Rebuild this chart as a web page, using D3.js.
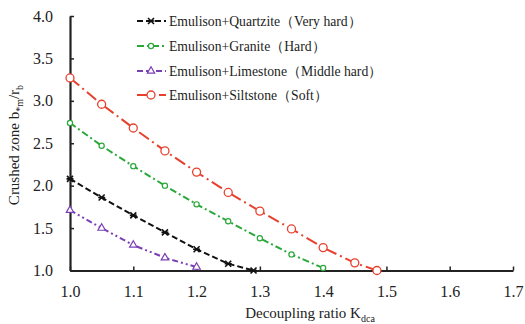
<!DOCTYPE html>
<html lang="en">
<head>
<meta charset="utf-8">
<style>
  body { margin: 0; background: #fff; }
  svg text { font-family: "Liberation Serif", "Times New Roman", serif; fill: #222; }
</style>
</head>
<body>
<script src="https://d3js.org/d3.v7.min.js"></script>
<script>
var width = 525, height = 324;

// data
var quartziteX = [1.0, 1.05, 1.1, 1.15, 1.2, 1.25, 1.29];
var quartziteY = [2.08, 1.86, 1.65, 1.45, 1.25, 1.08, 1.0];
var graniteX = [1.0, 1.05, 1.1, 1.15, 1.2, 1.25, 1.3, 1.35, 1.4];
var graniteY = [2.74, 2.47, 2.23, 2.0, 1.78, 1.58, 1.38, 1.19, 1.03];
var limestoneX = [1.0, 1.05, 1.1, 1.15, 1.2];
var limestoneY = [1.71, 1.5, 1.3, 1.15, 1.04];
var siltstoneX = [1.0, 1.05, 1.1, 1.15, 1.2, 1.25, 1.3, 1.35, 1.4, 1.45, 1.485];
var siltstoneY = [3.27, 2.96, 2.68, 2.41, 2.16, 1.92, 1.7, 1.49, 1.27, 1.09, 1.0];

var seriesNames = ['Emulison+Quartzite（Very hard）', 'Emulison+Granite（Hard）',
                   'Emulison+Limestone（Middle hard）', 'Emulison+Siltstone（Soft）'];
var xTicks = [1.0, 1.1, 1.2, 1.3, 1.4, 1.5, 1.6, 1.7];
var yTicks = [1.0, 1.5, 2.0, 2.5, 3.0, 3.5, 4.0];

var series = [
    { name: seriesNames[0], xs: quartziteX, ys: quartziteY, color: '#111', dash: '6,3', marker: 'star' },
    { name: seriesNames[1], xs: graniteX, ys: graniteY, color: '#2aa83a', dash: '7,3,2,3', marker: 'dot' },
    { name: seriesNames[2], xs: limestoneX, ys: limestoneY, color: '#7b3fb5', dash: '6,3,2,3,2,3', marker: 'tri' },
    { name: seriesNames[3], xs: siltstoneX, ys: siltstoneY, color: '#e8402e', dash: '12,4,2,4', marker: 'circle' }
];

var x = d3.scaleLinear().domain([1.0, 1.7]).range([70, 513]);
var y = d3.scaleLinear().domain([1.0, 4.0]).range([270.5, 16]);

var svg = d3.select('body').append('svg').attr('width', width).attr('height', height);

// axes, ticks pointing inward
var xAxis = svg.append('g').attr('transform', 'translate(0,' + y(1.0) + ')')
    .call(d3.axisBottom(x).tickValues(xTicks).tickFormat(d3.format('.1f')).tickSizeInner(-4).tickSizeOuter(0).tickPadding(15));
var yAxis = svg.append('g').attr('transform', 'translate(' + x(1.0) + ',0)')
    .call(d3.axisLeft(y).tickValues(yTicks).tickFormat(d3.format('.1f')).tickSizeInner(-4).tickSizeOuter(0).tickPadding(17));
[xAxis, yAxis].forEach(function (g) {
    g.attr('font-family', null);
    g.select('.domain').attr('stroke', '#222').attr('stroke-width', 2.2);
    g.selectAll('.tick line').attr('stroke', '#222').attr('stroke-width', 1.5);
    g.selectAll('.tick text').attr('font-size', 16).attr('fill', '#333');
});

function drawMarker(g, type, color, cx, cy) {
    if (type === 'star') {
        g.append('path').attr('d', 'M' + (cx - 3) + ',' + (cy - 3) + 'L' + (cx + 3) + ',' + (cy + 3) +
            'M' + (cx - 3) + ',' + (cy + 3) + 'L' + (cx + 3) + ',' + (cy - 3) +
            'M' + (cx - 3.5) + ',' + cy + 'L' + (cx + 3.5) + ',' + cy)
            .attr('stroke', color).attr('stroke-width', 1.6);
    } else if (type === 'dot') {
        g.append('circle').attr('cx', cx).attr('cy', cy).attr('r', 2.6)
            .attr('fill', '#fff').attr('stroke', color).attr('stroke-width', 1.2);
    } else if (type === 'tri') {
        g.append('path').attr('d', d3.symbol().type(d3.symbolTriangle).size(24)())
            .attr('transform', 'translate(' + cx + ',' + cy + ')')
            .attr('fill', '#fff').attr('stroke', color).attr('stroke-width', 1.2);
    } else {
        g.append('circle').attr('cx', cx).attr('cy', cy).attr('r', 4)
            .attr('fill', '#fff').attr('stroke', color).attr('stroke-width', 1.3);
    }
}

var line = d3.line().x(function (d) { return x(d[0]); }).y(function (d) { return y(d[1]); });

series.forEach(function (s) {
    var pts = s.xs.map(function (v, i) { return [v, s.ys[i]]; });
    var g = svg.append('g');
    g.append('path').datum(pts).attr('d', line).attr('fill', 'none')
        .attr('stroke', s.color).attr('stroke-width', 2).attr('stroke-dasharray', s.dash);
    pts.forEach(function (p) { drawMarker(g, s.marker, s.color, x(p[0]), y(p[1])); });
});

// legend
var legendY = [21, 46, 71, 95];
series.forEach(function (s, i) {
    var g = svg.append('g');
    g.append('line').attr('x1', 137).attr('x2', 166).attr('y1', legendY[i]).attr('y2', legendY[i])
        .attr('stroke', s.color).attr('stroke-width', 2).attr('stroke-dasharray', s.dash);
    drawMarker(g, s.marker, s.color, 151, legendY[i]);
    g.append('text').attr('x', 169).attr('y', legendY[i] + 4.5).attr('font-size', 13.7).text(s.name);
});

// axis titles
var xt = svg.append('text').attr('x', 310).attr('y', 318).attr('text-anchor', 'middle').attr('font-size', 15);
xt.append('tspan').text('Decoupling ratio K');
xt.append('tspan').attr('dy', 4).attr('font-size', 10).text('dca');

var yt = svg.append('text').attr('transform', 'translate(19,145) rotate(-90)').attr('text-anchor', 'middle').attr('font-size', 15);
yt.append('tspan').text('Crushed zone b');
yt.append('tspan').attr('dy', 4).attr('font-size', 10).text('*m');
yt.append('tspan').attr('dy', -4).text('/r');
yt.append('tspan').attr('dy', 4).attr('font-size', 10).text('b');
</script>
</body>
</html>
